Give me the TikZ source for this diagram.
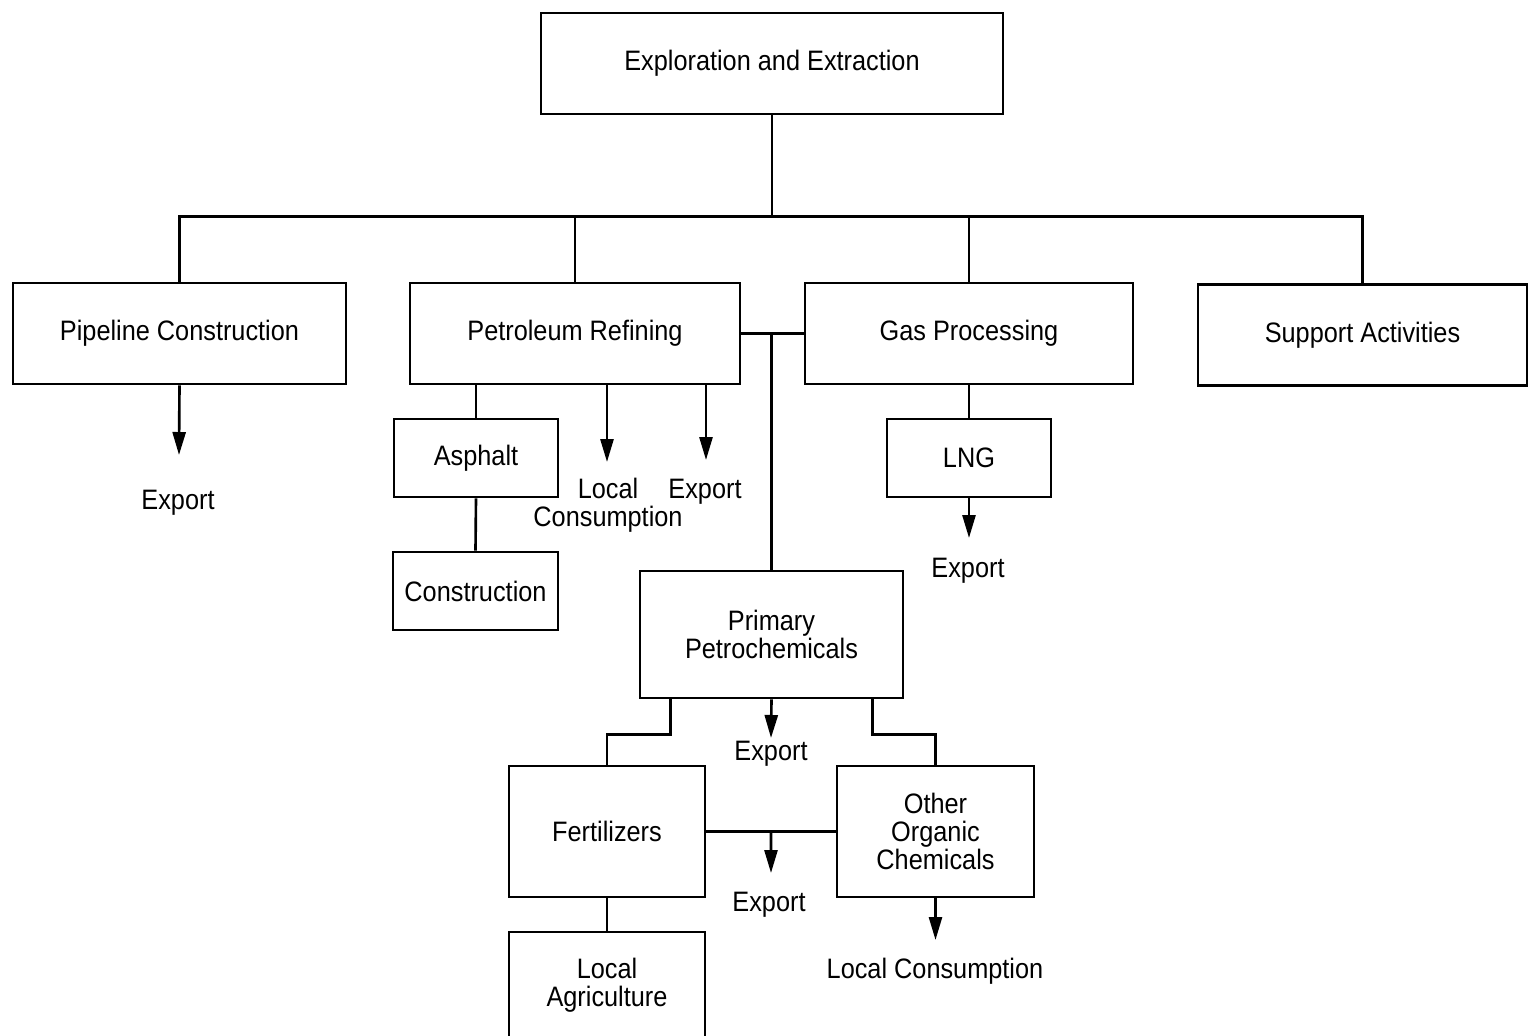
\documentclass[tikz,border=0pt]{standalone}
\usepackage{fontspec}
\setmainfont{Liberation Sans}[FakeStretch=0.9]
\usepackage{tikz}
\usetikzlibrary{arrows.meta, positioning, calc}

\begin{document}
\begin{tikzpicture}[x=1cm, y=1cm, line width=0.75pt,
  blk/.style={draw, minimum width=#1, align=center, inner sep=0pt, font=\fontsize{8}{8}\selectfont},
  lbl/.style={align=center, inner sep=0pt, font=\fontsize{8}{8}\selectfont},
  arr/.style={-{Triangle[length=2.3mm, width=1.3mm]}}]

\clip (0,0) rectangle (15.29,-10.35);

% Box heights
\def\hbig{1.01cm}
\def\hsmall{0.78cm}
\def\hmid{1.31cm}

\node[blk=4.62cm, minimum height=\hbig] (extr) at (7.72,-0.635) {Exploration and Extraction};

\node[blk=3.33cm, minimum height=\hbig] (pipe)   at (1.795,-3.335) {Pipeline Construction};
\node[blk=3.30cm, minimum height=\hbig] (petref) at (5.75,-3.335)  {Petroleum Refining};
\node[blk=3.28cm, minimum height=\hbig] (gas)    at (9.69,-3.335)  {Gas Processing};
\node[blk=3.29cm, minimum height=\hbig] (supp)   at (13.625,-3.35) {Support Activities};

\node[blk=1.64cm, minimum height=\hsmall] (asph)   at (4.76,-4.58)  {Asphalt};
\node[blk=1.65cm, minimum height=\hsmall] (constr) at (4.755,-5.91) {Construction};
\node[blk=1.64cm, minimum height=\hsmall] (lng)    at (9.69,-4.58)  {LNG};

\node[blk=2.63cm, minimum height=1.27cm] (prim) at (7.715,-6.345) {Primary\\Petrochemicals};

\node[blk=1.96cm, minimum height=\hmid] (fert)  at (6.07,-8.315)  {Fertilizers};
\node[blk=1.97cm, minimum height=\hmid] (other) at (9.355,-8.315) {Other\\Organic\\Chemicals};
\node[blk=1.96cm, minimum height=1.06cm] (agri) at (6.07,-9.85)   {Local\\Agriculture};

% Outflow labels
\node[lbl] (pipeexp)  at (1.78,-5.03)  {Export};
\node[lbl] (refloc)   at (6.08,-5.05)  {Local\\Consumption};
\node[lbl] (refexp)   at (7.05,-4.92)  {Export};
\node[lbl] (lngexp)   at (9.68,-5.71)  {Export};
\node[lbl] (primexp)  at (7.71,-7.54)  {Export};
\node[lbl] (fertexp)  at (7.69,-9.05)  {Export};
\node[lbl] (otherloc) at (9.35,-9.71)  {Local Consumption};

% Arrow tips
\coordinate (pipetip)  at (1.79,-4.55);
\coordinate (reftipa)  at (6.07,-4.62);
\coordinate (reftipb)  at (7.06,-4.60);
\coordinate (lngtip)   at (9.69,-5.38);
\coordinate (primtip)  at (7.71,-7.38);
\coordinate (ferttip)  at (7.71,-8.73);
\coordinate (othertip) at (9.355,-9.40);

% Main bus
\draw (extr.south) -- ++(0,-1.01) coordinate (bus);
\draw (pipe.north) |- (bus) -| (supp.north);
\draw (petref.north) -- (petref.north |- bus);
\draw (gas.north) -- (gas.north |- bus);

% Refining and gas
\draw (petref.east) -- (gas.west);
\draw (prim.north) -- (prim.north |- petref.east);
\draw (asph.north) -- (asph.north |- petref.south);
\draw (asph.south) -- (constr.north);
\draw (gas.south) -- (lng.north);

% Petrochemicals
\draw ($(prim.south west)+(0.32,0)$) -- ++(0,-0.35) -| (fert.north);
\draw ($(prim.south east)-(0.32,0)$) -- ++(0,-0.35) -| (other.north);
\draw (fert.east) -- (other.west);
\draw (fert.south) -- (agri.north);

% Export and consumption arrows
\draw[arr] (pipe.south) -- (pipetip);
\draw[arr] (reftipa |- petref.south) -- (reftipa);
\draw[arr] (reftipb |- petref.south) -- (reftipb);
\draw[arr] (lng.south) -- (lngtip);
\draw[arr] (prim.south) -- (primtip);
\draw[arr] ($(fert.east)!0.5!(other.west)$) -- (ferttip);
\draw[arr] (other.south) -- (othertip);

\end{tikzpicture}
\end{document}
